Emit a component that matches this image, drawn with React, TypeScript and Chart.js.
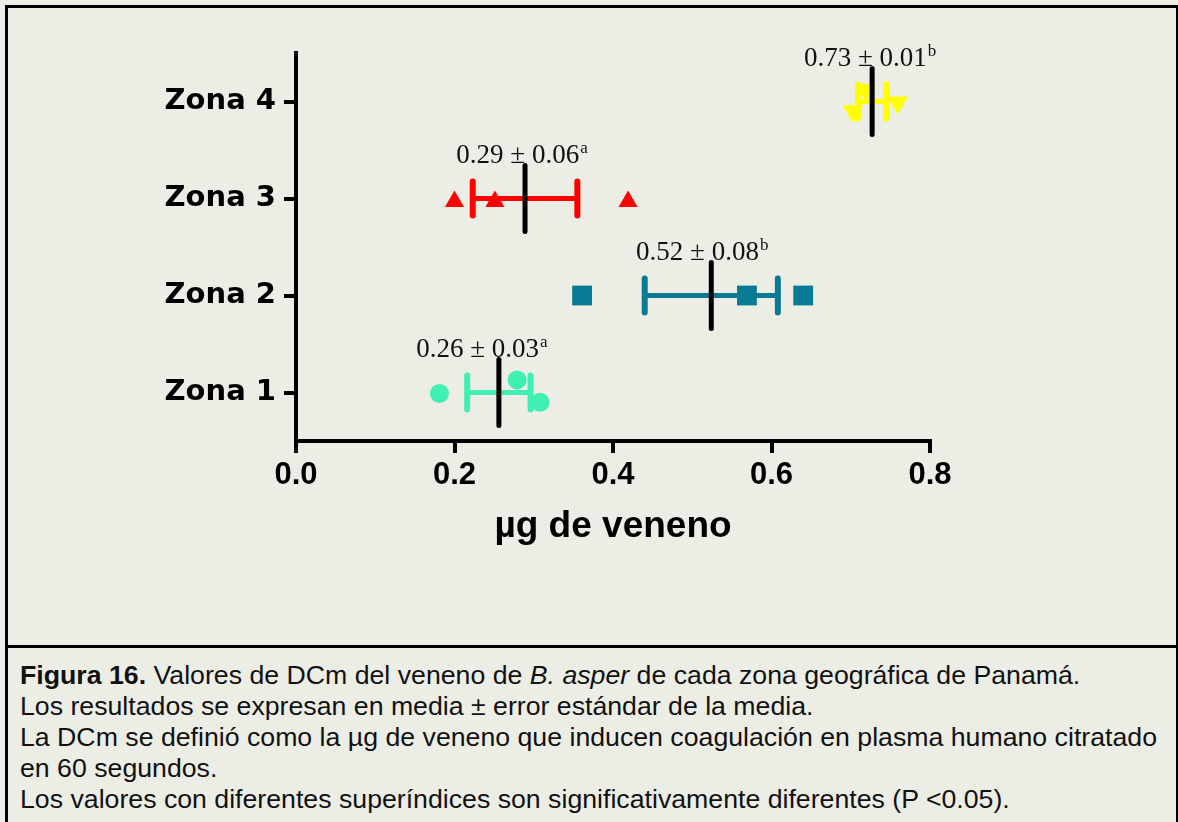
import React, { useEffect, useRef } from 'react';
import { Chart, registerables } from 'chart.js';

Chart.register(...registerables);

// ---- data ----
const zoneLabels = ['Zona 1', 'Zona 2', 'Zona 3', 'Zona 4'];
const zonePos = [1, 2, 3, 4];
const xTicks = [0, 0.2, 0.4, 0.6, 0.8];

const zona1X = [0.181, 0.279, 0.308];
const zona1Y = [0.99, 1.13, 0.9];
const zona2X = [0.361, 0.569, 0.64];
const zona2Y = [2, 2, 2];
const zona3X = [0.2, 0.251, 0.419];
const zona3Y = [2.97, 2.97, 2.97];
const zona4X = [0.703, 0.719, 0.759];
const zona4Y = [3.9, 4.12, 3.99];

const means = [0.256, 0.524, 0.289, 0.727];
const sems = [0.04, 0.084, 0.066, 0.018];
const labelMain = ['0.26 ± 0.03', '0.52 ± 0.08', '0.29 ± 0.06', '0.73 ± 0.01'];
const labelSup = ['a', 'b', 'a', 'b'];

// ---- style ----
const colors = ['#40EFB2', '#087A94', '#FF0000', '#FFFF00'];
const labelDx = [-17, -9, -3, -2];
const BG = '#ECEEE6';

const pts = (xs: number[], ys: number[]) => xs.map((v, i) => ({ x: v, y: ys[i] }));

const overlayPlugin = {
  id: 'overlay',
  afterDatasetsDraw(chart: any) {
    const { ctx, scales } = chart;
    const x = scales.x;
    const y = scales.y;
    ctx.save();
    means.forEach((m, i) => {
      const yc = y.getPixelForValue(zonePos[i]);
      const x1 = x.getPixelForValue(m - sems[i]);
      const x2 = x.getPixelForValue(m + sems[i]);
      const xm = x.getPixelForValue(m);
      ctx.strokeStyle = colors[i];
      ctx.lineCap = 'butt';
      ctx.lineWidth = 5;
      ctx.beginPath();
      ctx.moveTo(x1, yc);
      ctx.lineTo(x2, yc);
      ctx.stroke();
      ctx.lineWidth = 6;
      ctx.lineCap = 'round';
      ctx.beginPath();
      ctx.moveTo(x1, yc - 17);
      ctx.lineTo(x1, yc + 17);
      ctx.moveTo(x2, yc - 17);
      ctx.lineTo(x2, yc + 17);
      ctx.stroke();
      ctx.strokeStyle = '#000';
      ctx.lineWidth = 5;
      ctx.beginPath();
      ctx.moveTo(xm, yc - 33);
      ctx.lineTo(xm, yc + 33);
      ctx.stroke();

      // annotation
      const mainFont = '27px "Liberation Serif", "Times New Roman", serif';
      const supFont = '17px "Liberation Serif", "Times New Roman", serif';
      ctx.font = mainFont;
      const w1 = ctx.measureText(labelMain[i]).width;
      ctx.font = supFont;
      const w2 = ctx.measureText(labelSup[i]).width;
      const left = xm + labelDx[i] - (w1 + w2 + 1) / 2;
      const base = yc - 36;
      ctx.fillStyle = '#111';
      ctx.textAlign = 'left';
      ctx.textBaseline = 'alphabetic';
      ctx.font = mainFont;
      ctx.fillText(labelMain[i], left, base);
      ctx.font = supFont;
      ctx.fillText(labelSup[i], left + w1 + 1, base - 10);
    });
    ctx.restore();
  },
};

function ChartView() {
  const ref = useRef<HTMLCanvasElement | null>(null);
  useEffect(() => {
    if (!ref.current) return;
    const tickFont = { family: '"Liberation Sans", Arial, sans-serif', size: 31, weight: 'bold' as const };
    const chart = new Chart(ref.current, {
      type: 'scatter',
      data: {
        datasets: [
          { data: pts(zona1X, zona1Y), pointStyle: 'circle', pointRadius: 9.5, backgroundColor: colors[0], borderColor: colors[0], borderWidth: 0 },
          { data: pts(zona2X, zona2Y), pointStyle: 'rect', pointRadius: 14, backgroundColor: colors[1], borderColor: colors[1], borderWidth: 0 },
          { data: pts(zona3X, zona3Y), pointStyle: 'triangle', pointRadius: 11, backgroundColor: colors[2], borderColor: colors[2], borderWidth: 0 },
          { data: pts(zona4X, zona4Y), pointStyle: 'triangle', rotation: 180, pointRadius: 12, backgroundColor: colors[3], borderColor: colors[3], borderWidth: 0 },
        ] as any,
      },
      options: {
        animation: false,
        responsive: false,
        maintainAspectRatio: false,
        layout: { padding: { left: 0, top: 53, right: 248, bottom: 89 } },
        plugins: { legend: { display: false }, tooltip: { enabled: false } },
        scales: {
          x: {
            type: 'linear',
            min: 0,
            max: 0.8,
            afterBuildTicks: (s: any) => {
              s.ticks = xTicks.map((v) => ({ value: v }));
            },
            afterFit: (s: any) => {
              s.height = 110;
            },
            ticks: {
              callback: (v: any) => Number(v).toFixed(1),
              font: tickFont,
              color: '#000',
              padding: 4,
              maxRotation: 0,
            },
            grid: { display: true, drawOnChartArea: false, drawTicks: true, tickLength: 12, color: '#000', lineWidth: 4 },
            border: { display: true, color: '#000', width: 4 },
            title: {
              display: true,
              text: 'µg de veneno',
              color: '#000',
              font: { family: '"Liberation Sans", Arial, sans-serif', size: 37, weight: 'bold' },
              padding: { top: 10, bottom: 2 },
            },
          },
          y: {
            type: 'linear',
            min: 0.5,
            max: 4.5,
            afterBuildTicks: (s: any) => {
              s.ticks = zonePos.map((v) => ({ value: v }));
            },
            afterFit: (s: any) => {
              s.width = 296;
            },
            ticks: {
              callback: (v: any) => {
                const k = zonePos.indexOf(Number(v));
                return k >= 0 ? zoneLabels[k] : '';
              },
              font: { family: '"DejaVu Sans", Verdana, sans-serif', size: 29, weight: 'bold' },
              color: '#000',
              padding: 8,
            },
            grid: { display: true, drawOnChartArea: false, drawTicks: true, tickLength: 12, color: '#000', lineWidth: 4 },
            border: { display: true, color: '#000', width: 4 },
          },
        },
      } as any,
      plugins: [overlayPlugin],
    });
    return () => chart.destroy();
  }, []);
  return <canvas ref={ref} width={1178} height={640} style={{ position: 'absolute', left: 0, top: 0, width: 1178, height: 640 }} />;
}

export default function App() {
  return (
    <div style={{ position: 'absolute', left: 0, top: 0, width: 1178, height: 822, background: BG, overflow: 'hidden' }}>
      <div style={{ position: 'absolute', left: 5, top: 5, width: 1168, height: 840, border: '3px solid #000', boxSizing: 'content-box' }} />
      <div style={{ position: 'absolute', left: 5, top: 645, width: 1172, height: 3, background: '#000' }} />
      <ChartView />
      <div
        style={{
          position: 'absolute',
          left: 20,
          top: 660,
          width: 1150,
          fontFamily: '"Liberation Sans", Arial, sans-serif',
          fontSize: 26.7,
          lineHeight: '31px',
          color: '#111',
          whiteSpace: 'nowrap',
        }}
      >
        <div>
          <b>Figura 16.</b> Valores de DCm del veneno de <i>B. asper</i> de cada zona geográfica de Panamá.
        </div>
        <div>Los resultados se expresan en media ± error estándar de la media.</div>
        <div>La DCm se definió como la µg de veneno que inducen coagulación en plasma humano citratado</div>
        <div>en 60 segundos.</div>
        <div>Los valores con diferentes superíndices son significativamente diferentes (P &lt;0.05).</div>
      </div>
    </div>
  );
}
